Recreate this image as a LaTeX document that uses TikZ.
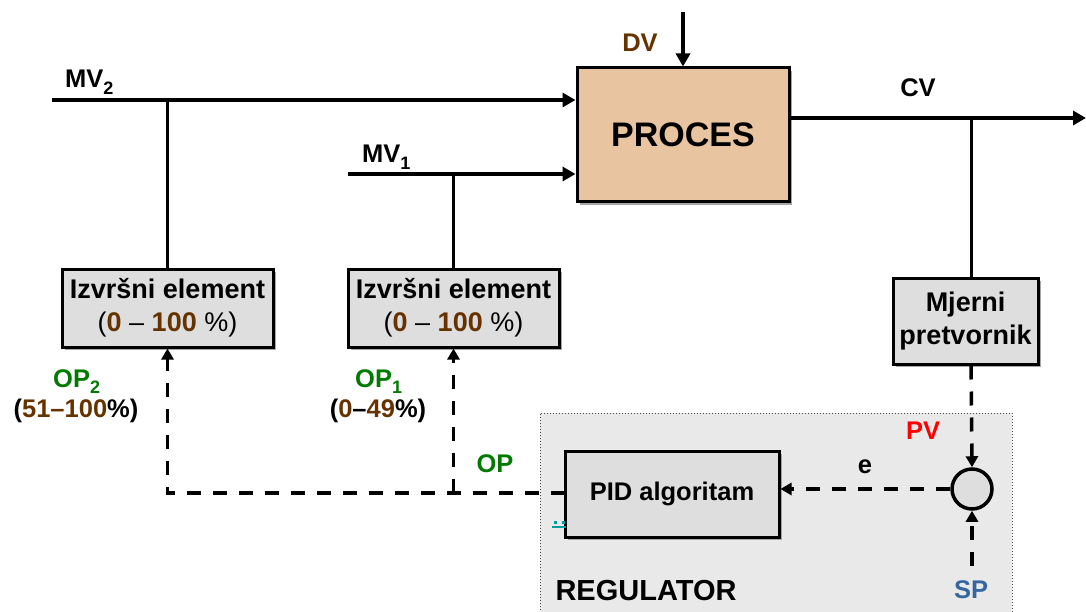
\documentclass[tikz,border=0pt]{standalone}
\usepackage{fontspec}
\setmainfont{Liberation Sans}
\usetikzlibrary{arrows.meta,shadows,calc}
\definecolor{brn}{RGB}{102,51,0}
\definecolor{grn}{RGB}{0,122,0}
\definecolor{spb}{RGB}{52,102,160}
\definecolor{proc}{RGB}{232,196,160}
\definecolor{boxg}{RGB}{222,222,222}
\definecolor{regg}{RGB}{233,233,233}
\definecolor{tl}{RGB}{0,160,160}
\newcommand\mysub[1]{\raisebox{-0.45ex}{\fontsize{18}{18}\selectfont #1}}
\begin{document}
\begin{tikzpicture}[x=1pt,y=-1pt,
  every node/.style={font=\fontsize{25.5}{30}\selectfont\bfseries, inner sep=0pt},
  blk/.style={draw=black, line width=3pt, fill=boxg, align=center,
    font=\fontsize{27}{33}\selectfont\bfseries,
    drop shadow={shadow xshift=3pt,shadow yshift=-3pt,fill=black!35,opacity=1}},
  main/.style={line width=4.5pt},
  br/.style={line width=3pt},
  dsh/.style={line width=3.5pt, dash pattern=on 14pt off 12pt},
  tip/.style={-{Triangle[length=13pt,width=14pt]}},
  dtip/.style={-{Triangle[length=11pt,width=12pt]}}]
\useasboundingbox (0,0) rectangle (1086,612);
\begin{scope}
\clip (0,0) rectangle (1086,612);
% regulator background
\fill[regg] (540,413) rectangle (1012,640);
\draw[black!70, line width=1pt, dotted] (540,640) -- (540,413) -- (1012,413) -- (1012,640);
\node[font=\fontsize{29}{30}\selectfont\bfseries] (reg) at (646,591) {REGULATOR};

% blocks
\node[blk, fill=proc, minimum width=212pt, minimum height=134pt,
  font=\fontsize{34}{36}\selectfont\bfseries] (proc) at (683,135) {PROCES};
\node[blk, minimum width=211pt, minimum height=78pt] (ie2) at (167.5,308)
  {Izvršni element\\[0pt]{\mdseries(}\textcolor{brn}{0} {\mdseries–} \textcolor{brn}{100} {\mdseries\%)}};
\node[blk, minimum width=211pt, minimum height=78pt] (ie1) at (453.5,308)
  {Izvršni element\\[0pt]{\mdseries(}\textcolor{brn}{0} {\mdseries–} \textcolor{brn}{100} {\mdseries\%)}};
\node[blk, minimum width=145pt, minimum height=86pt] (mp) at (965.5,321)
  {Mjerni\\[0pt]pretvornik};
\node[blk, minimum width=214pt, minimum height=86pt, font=\fontsize{25.5}{30}\selectfont\bfseries] (pid) at (672,494) {PID algoritam};
\node[circle, draw=black, line width=3.5pt, fill=boxg, minimum size=40pt] (sum) at (972,489) {};

% coordinates
\coordinate (mv2s) at (52,100);
\coordinate (mv1s) at (348,174);
\coordinate (dvs) at (683,12);
\coordinate (cve) at (1086,118);
\coordinate (sps) at (972,566);
\coordinate (mv2b) at (ie2.north |- mv2s);
\coordinate (mv1b) at (ie1.north |- mv1s);
\coordinate (cvb) at (971,118);
\coordinate (opw) at (565,493);
\coordinate (opj1) at (ie1.south |- opw);
\coordinate (opj2) at (ie2.south |- opw);

% solid lines
\draw[main, tip] (mv2s) -- (mv2s -| proc.west);
\draw[main, tip] (mv1s) -- (mv1s -| proc.west);
\draw[br] (mv2b) -- (ie2.north);
\draw[br] (mv1b) -- (ie1.north);
\draw[main, tip] (dvs) -- (proc.north);
\draw[main, tip] (cve -| proc.east) -- (cve);
\draw[br] (cvb) -- (cvb |- mp.north);

% dashed lines
\draw[dsh, dtip] (opw) -- (opj2) -- (ie2.south);
\draw[dsh, dtip] (opj1) -- (ie1.south);
\draw[dsh, dtip] (sum.west) -- (sum.west -| pid.east);
\draw[dsh, dtip] (cvb |- mp.south) -- (sum.north);
\draw[dsh, dtip] (sps) -- (sum.south);

% labels
\node[text=brn] (dv) at (640,43) {DV};
\node[anchor=base west] (mv2) at (65,88) {MV\mysub{2}};
\node[anchor=base west] (mv1) at (362,163) {MV\mysub{1}};
\node (cv) at (918,88) {CV};
\node[anchor=base west, text=grn] (op2) at (53,387) {OP\mysub{2}};
\node (op2r) at (76,411) {(\textcolor{brn}{51–100}\%)};
\node[anchor=base west, text=grn] (op1) at (355,387) {OP\mysub{1}};
\node (op1r) at (378,411) {(\textcolor{brn}{0}–\textcolor{brn}{49}\%)};
\node[text=grn] (op) at (495,464) {OP};
\node[text=red] (pv) at (923,431) {PV};
\node[anchor=base] (e) at (865,473) {e};
\node[text=spb] (sp) at (971,590) {SP};

% small teal mark
\fill[tl] (553.5,520.5) rectangle (556.5,523.5);
\fill[tl] (561.5,520.5) rectangle (564.5,523.5);
\draw[tl, line width=1.2pt] (552,527) -- (566,527);
\end{scope}
\end{tikzpicture}
\end{document}
